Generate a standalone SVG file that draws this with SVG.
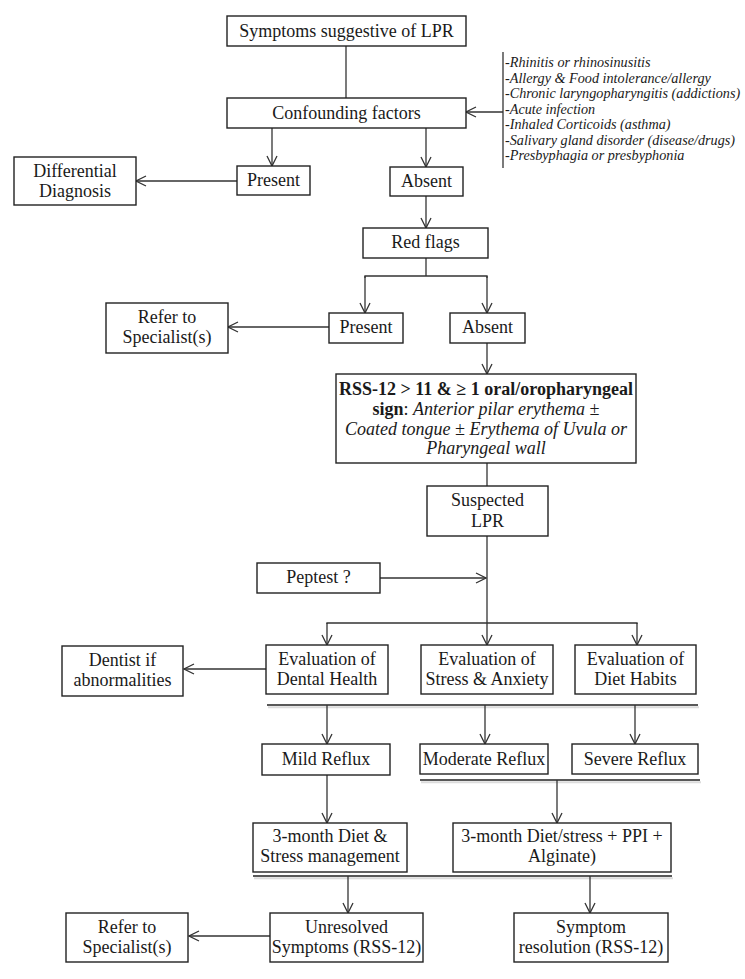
<svg xmlns="http://www.w3.org/2000/svg" width="745" height="979" viewBox="0 0 745 979">
<defs>
<marker id="arr" viewBox="0 0 12 12" refX="11" refY="6" markerWidth="12" markerHeight="12" markerUnits="userSpaceOnUse" orient="auto">
<path d="M1,1 L11,6 L1,11" fill="none" stroke="#333" stroke-width="1.3"/>
</marker>
<style>
.box{fill:#fff;stroke:#222;stroke-width:1.4}
.t{font-family:"Liberation Serif","Times New Roman",serif;font-size:18px;fill:#1a1a1a;text-anchor:middle}
.li{font-family:"Liberation Serif","Times New Roman",serif;font-size:14.2px;font-style:italic;fill:#1a1a1a}
.c{fill:none;stroke:#333;stroke-width:1.3}
.a{fill:none;stroke:#333;stroke-width:1.3;marker-end:url(#arr)}
.bar{fill:none;stroke:#222;stroke-width:1.6}
.sh{fill:none;stroke:#dcdcdc;stroke-width:2}
</style>
</defs>
<rect width="745" height="979" fill="#fff"/>

<g id="connectors">
<line class="c" x1="346" y1="46" x2="346" y2="98"/>
<line class="c" x1="503" y1="52" x2="503" y2="168"/>
<line class="a" x1="503" y1="112" x2="466" y2="112"/>
<line class="a" x1="272" y1="128" x2="272" y2="166"/>
<line class="a" x1="426" y1="128" x2="426" y2="167"/>
<line class="a" x1="237" y1="181" x2="136" y2="181"/>
<line class="a" x1="426" y1="196" x2="426" y2="228"/>
<polyline class="c" points="426,258 426,276"/>
<polyline class="c" points="365,278 365,276 487,276 487,278"/>
<line class="a" x1="365" y1="276" x2="365" y2="313"/>
<line class="a" x1="487" y1="276" x2="487" y2="313"/>
<line class="a" x1="329" y1="327" x2="228" y2="327"/>
<line class="a" x1="487" y1="343" x2="487" y2="374"/>
<line class="c" x1="487" y1="463" x2="487" y2="486"/>
<line class="c" x1="487" y1="536" x2="487" y2="623"/>
<line class="a" x1="380" y1="578" x2="486" y2="578"/>
<polyline class="c" points="327,624 327,623 637,623 637,624"/>
<line class="a" x1="327" y1="623" x2="327" y2="645"/>
<line class="a" x1="487" y1="623" x2="487" y2="645"/>
<line class="a" x1="637" y1="623" x2="637" y2="645"/>
<line class="a" x1="266" y1="669" x2="184" y2="669"/>
<line class="sh" x1="268" y1="707.2" x2="699" y2="707.2"/>
<line class="bar" x1="267" y1="705" x2="698" y2="705"/>
<line class="a" x1="327" y1="705" x2="327" y2="744"/>
<line class="a" x1="485" y1="705" x2="485" y2="744"/>
<line class="a" x1="635" y1="705" x2="635" y2="744"/>
<line class="sh" x1="421" y1="782.2" x2="701" y2="782.2"/>
<line class="bar" x1="420" y1="780" x2="700" y2="780"/>
<line class="a" x1="557" y1="780" x2="557" y2="823"/>
<line class="a" x1="327" y1="775" x2="327" y2="823"/>
<line class="sh" x1="254" y1="878.2" x2="673" y2="878.2"/>
<line class="bar" x1="253" y1="876" x2="672" y2="876"/>
<line class="a" x1="348" y1="876" x2="348" y2="913"/>
<line class="a" x1="590" y1="876" x2="590" y2="913"/>
<line class="a" x1="270" y1="936" x2="189" y2="936"/>
</g>

<g id="symptoms">
<rect class="box" x="227" y="16" width="239" height="30"/>
<text class="t" x="346.5" y="37">Symptoms suggestive of LPR</text>
</g>

<g id="confounding">
<rect class="box" x="227" y="98" width="239" height="30"/>
<text class="t" x="346.5" y="119">Confounding factors</text>
</g>

<g id="factors">
<text class="li" x="505" y="67">-Rhinitis or rhinosinusitis</text>
<text class="li" x="505" y="82.5">-Allergy &amp; Food intolerance/allergy</text>
<text class="li" x="505" y="98">-Chronic laryngopharyngitis (addictions)</text>
<text class="li" x="505" y="113.5">-Acute infection</text>
<text class="li" x="505" y="129">-Inhaled Corticoids (asthma)</text>
<text class="li" x="505" y="144.5">-Salivary gland disorder (disease/drugs)</text>
<text class="li" x="505" y="160">-Presbyphagia or presbyphonia</text>
</g>

<g id="present1">
<rect class="box" x="237" y="166" width="73" height="29"/>
<text class="t" x="273.5" y="186">Present</text>
</g>

<g id="absent1">
<rect class="box" x="390" y="167" width="73" height="29"/>
<text class="t" x="426.5" y="187">Absent</text>
</g>

<g id="differential">
<rect class="box" x="14" y="157" width="122" height="48"/>
<text class="t" x="75" y="177">Differential</text>
<text class="t" x="75" y="197">Diagnosis</text>
</g>

<g id="redflags">
<rect class="box" x="363" y="228" width="125" height="30"/>
<text class="t" x="425.5" y="248">Red flags</text>
</g>

<g id="present2">
<rect class="box" x="329" y="313" width="74" height="30"/>
<text class="t" x="366" y="333">Present</text>
</g>

<g id="absent2">
<rect class="box" x="450" y="313" width="75" height="30"/>
<text class="t" x="487.5" y="333">Absent</text>
</g>

<g id="refer1">
<rect class="box" x="106" y="303" width="122" height="50"/>
<text class="t" x="167" y="323">Refer to</text>
<text class="t" x="167" y="343">Specialist(s)</text>
</g>

<g id="rss">
<rect class="box" x="336" y="374" width="300" height="89"/>
<text class="t" x="486" y="395" font-weight="bold" font-size="16.5">RSS-12 &gt; 11 &amp; ≥ 1 oral/oropharyngeal</text>
<text class="t" x="486" y="415"><tspan font-weight="bold">sign</tspan>: <tspan font-style="italic">Anterior pilar erythema ±</tspan></text>
<text class="t" x="486" y="434.5" font-style="italic">Coated tongue ± Erythema of Uvula or</text>
<text class="t" x="486" y="454" font-style="italic">Pharyngeal wall</text>
</g>

<g id="suspected">
<rect class="box" x="427" y="486" width="121" height="50"/>
<text class="t" x="487.5" y="506">Suspected</text>
<text class="t" x="487.5" y="527">LPR</text>
</g>

<g id="peptest">
<rect class="box" x="257" y="563" width="123" height="30"/>
<text class="t" x="318.5" y="583">Peptest ?</text>
</g>

<g id="dentist">
<rect class="box" x="62" y="646" width="121" height="50"/>
<text class="t" x="122.5" y="666">Dentist if</text>
<text class="t" x="122.5" y="686">abnormalities</text>
</g>

<g id="dental">
<rect class="box" x="266" y="645" width="122" height="49"/>
<text class="t" x="327" y="665">Evaluation of</text>
<text class="t" x="327" y="685">Dental Health</text>
</g>

<g id="stress">
<rect class="box" x="421" y="645" width="132" height="49"/>
<text class="t" x="487" y="665">Evaluation of</text>
<text class="t" x="487" y="685">Stress &amp; Anxiety</text>
</g>

<g id="diet">
<rect class="box" x="575" y="645" width="121" height="49"/>
<text class="t" x="635.5" y="665">Evaluation of</text>
<text class="t" x="635.5" y="685">Diet Habits</text>
</g>

<g id="mild">
<rect class="box" x="262" y="744" width="128" height="31"/>
<text class="t" x="326" y="765">Mild Reflux</text>
</g>

<g id="moderate">
<rect class="box" x="420" y="744" width="128" height="30"/>
<text class="t" x="484" y="765">Moderate Reflux</text>
</g>

<g id="severe">
<rect class="box" x="572" y="744" width="126" height="30"/>
<text class="t" x="635" y="765">Severe Reflux</text>
</g>

<g id="dietstress">
<rect class="box" x="253" y="823" width="154" height="49"/>
<text class="t" x="330" y="842">3-month Diet &amp;</text>
<text class="t" x="330" y="862">Stress management</text>
</g>

<g id="dietppi">
<rect class="box" x="453" y="823" width="218" height="49"/>
<text class="t" x="562" y="842">3-month Diet/stress + PPI +</text>
<text class="t" x="562" y="862">Alginate)</text>
</g>

<g id="refer2">
<rect class="box" x="66" y="913" width="122" height="49"/>
<text class="t" x="127" y="933">Refer to</text>
<text class="t" x="127" y="953">Specialist(s)</text>
</g>

<g id="unresolved">
<rect class="box" x="270" y="913" width="153" height="49"/>
<text class="t" x="346.5" y="933">Unresolved</text>
<text class="t" x="346.5" y="953">Symptoms (RSS-12)</text>
</g>

<g id="resolution">
<rect class="box" x="514" y="913" width="154" height="49"/>
<text class="t" x="591" y="933">Symptom</text>
<text class="t" x="591" y="953">resolution (RSS-12)</text>
</g>
</svg>
